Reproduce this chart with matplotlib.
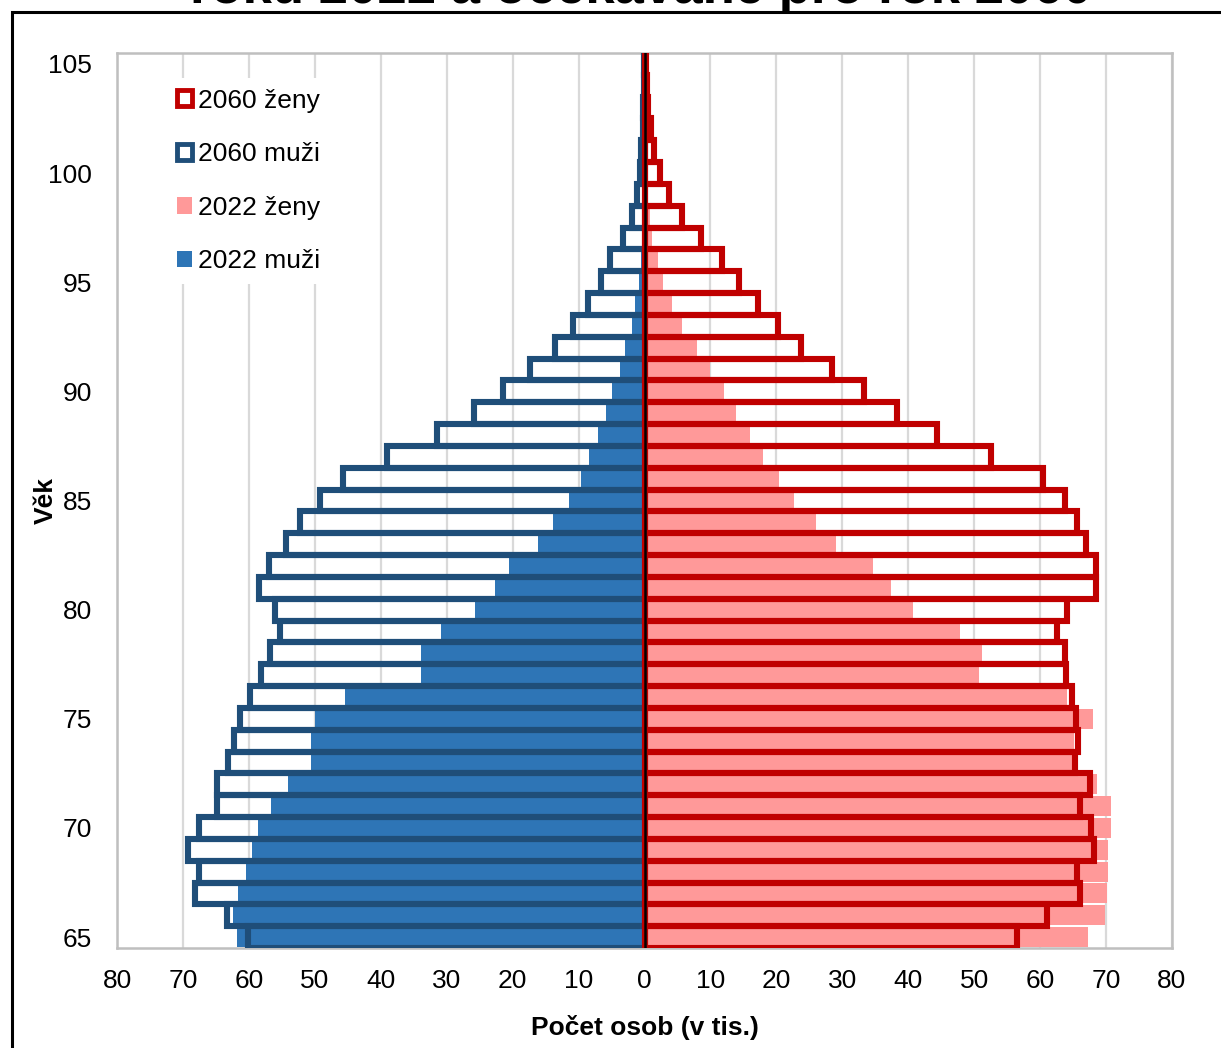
import numpy as np
import matplotlib
matplotlib.use('Agg')
import matplotlib.pyplot as plt
from matplotlib.patches import Patch, Rectangle

plt.rcParams['font.family'] = ['Liberation Sans', 'DejaVu Sans']

# ages 65..105
ages = np.arange(65, 106)

muzi_2022 = [61.8, 62.4, 61.6, 60.4, 59.6, 58.6, 56.6, 54.0, 50.6, 50.6,
             49.9, 45.4, 33.9, 33.9, 30.8, 25.7, 22.7, 20.6, 16.2, 13.9,
             11.5, 9.7, 8.4, 7.0, 5.8, 4.9, 3.7, 3.0, 1.9, 1.4,
             0.9, 0.6, 0.4, 0.2, 0.1, 0.1, 0.05, 0.03, 0.02, 0.01, 0.01]

muzi_2060 = [60.2, 63.3, 68.2, 67.5, 69.2, 67.6, 64.9, 64.9, 63.1, 62.2,
             61.4, 59.9, 58.2, 56.8, 55.3, 56.0, 58.4, 56.9, 54.4, 52.3,
             49.2, 45.7, 39.1, 31.4, 25.8, 21.5, 17.4, 13.5, 10.8, 8.5,
             6.6, 5.2, 3.3, 1.9, 1.2, 0.7, 0.5, 0.3, 0.2, 0.1, 0.1]

zeny_2022 = [67.2, 69.9, 70.1, 70.3, 70.3, 70.8, 70.8, 68.6, 65.0, 65.2,
             68.0, 64.1, 50.7, 51.2, 47.9, 40.7, 37.4, 34.7, 29.1, 26.0,
             22.6, 20.4, 18.0, 16.0, 13.9, 12.1, 9.9, 7.9, 5.7, 4.2,
             2.8, 2.0, 1.2, 0.8, 0.5, 0.3, 0.2, 0.1, 0.05, 0.02, 0.01]

zeny_2060 = [56.5, 61.0, 66.0, 65.6, 68.1, 67.7, 66.1, 67.6, 65.3, 65.7,
             65.4, 64.8, 63.9, 63.7, 62.5, 64.0, 68.4, 68.4, 67.0, 65.6,
             63.8, 60.4, 52.6, 44.3, 38.3, 33.3, 28.4, 23.8, 20.3, 17.2,
             14.4, 11.7, 8.6, 5.7, 3.7, 2.3, 1.5, 1.0, 0.6, 0.4, 0.3]

xticks = np.arange(-80, 81, 10)
yticks = np.arange(65, 106, 5)

c_m22 = '#2E75B6'
c_m60 = '#1F4E79'
c_z22 = '#FF9999'
c_z60 = '#C00000'

W, H = 1221, 1048
fig = plt.figure(figsize=(W / 100, H / 100), dpi=100)
ax = fig.add_axes([117 / W, 1 - 948 / H, (1172 - 117) / W, (948 - 53) / H])

# 2022 filled bars
ax.barh(ages, -np.array(muzi_2022), height=0.92, color=c_m22, zorder=2)
ax.barh(ages, zeny_2022, height=0.92, color=c_z22, zorder=2)

# 2060 outline bars
ax.barh(ages, -np.array(muzi_2060), height=1.0, facecolor='none',
        edgecolor=c_m60, linewidth=4.4, joinstyle='miter', zorder=3)
ax.barh(ages, zeny_2060, height=1.0, facecolor='none',
        edgecolor=c_z60, linewidth=4.4, joinstyle='miter', zorder=3)

ax.axvline(0, color='black', linewidth=1.8, zorder=4)

ax.set_xlim(-80, 80)
ax.set_ylim(64.5, 105.5)
ax.set_xticks(xticks)
ax.set_xticklabels([str(abs(v)) for v in xticks])
ax.set_yticks(yticks)
ax.tick_params(axis='both', length=0, labelsize=19)
ax.tick_params(axis='x', pad=15)
ax.tick_params(axis='y', pad=18)

ax.grid(axis='x', color='#D9D9D9', linewidth=1.6)
ax.set_axisbelow(True)
for s in ax.spines.values():
    s.set_color('#BFBFBF')
    s.set_linewidth(1.8)

ax.set_xlabel('Počet osob (v tis.)', fontsize=19, fontweight='bold', labelpad=16)
ax.set_ylabel('Věk', fontsize=19, fontweight='bold')
ax.yaxis.set_label_coords((58 - 117) / (1172 - 117), 0.5)

handles = [Patch(facecolor='white', edgecolor=c_z60, linewidth=3.5),
           Patch(facecolor='white', edgecolor=c_m60, linewidth=3.5),
           Patch(facecolor=c_z22, edgecolor='none'),
           Patch(facecolor=c_m22, edgecolor='none')]
labels = ['2060 ženy', '2060 muži', '2022 ženy', '2022 muži']
leg = ax.legend(handles, labels, loc='upper left',
                bbox_to_anchor=(166 / W, 1 - 78 / H), bbox_transform=fig.transFigure,
                fontsize=19, frameon=True, fancybox=False, framealpha=1,
                facecolor='white', edgecolor='none', borderaxespad=0,
                handlelength=0.58, handleheight=0.58, handletextpad=0.25,
                labelspacing=1.12, borderpad=0.4)
leg.set_zorder(5)

# outer frame of the original figure
fig.patches.append(Rectangle((12 / W, -0.1), 1.2, 1.1 - 12 / H, transform=fig.transFigure,
                             fill=False, edgecolor='black', linewidth=2.2))

# title, cut off at the top edge
fig.text(0.525, 1 - 3 / H, 'roku 2022 a očekávané pro rok 2060', ha='center',
         va='baseline', fontsize=38, fontweight='bold')

fig.savefig('out.png', dpi=100)
